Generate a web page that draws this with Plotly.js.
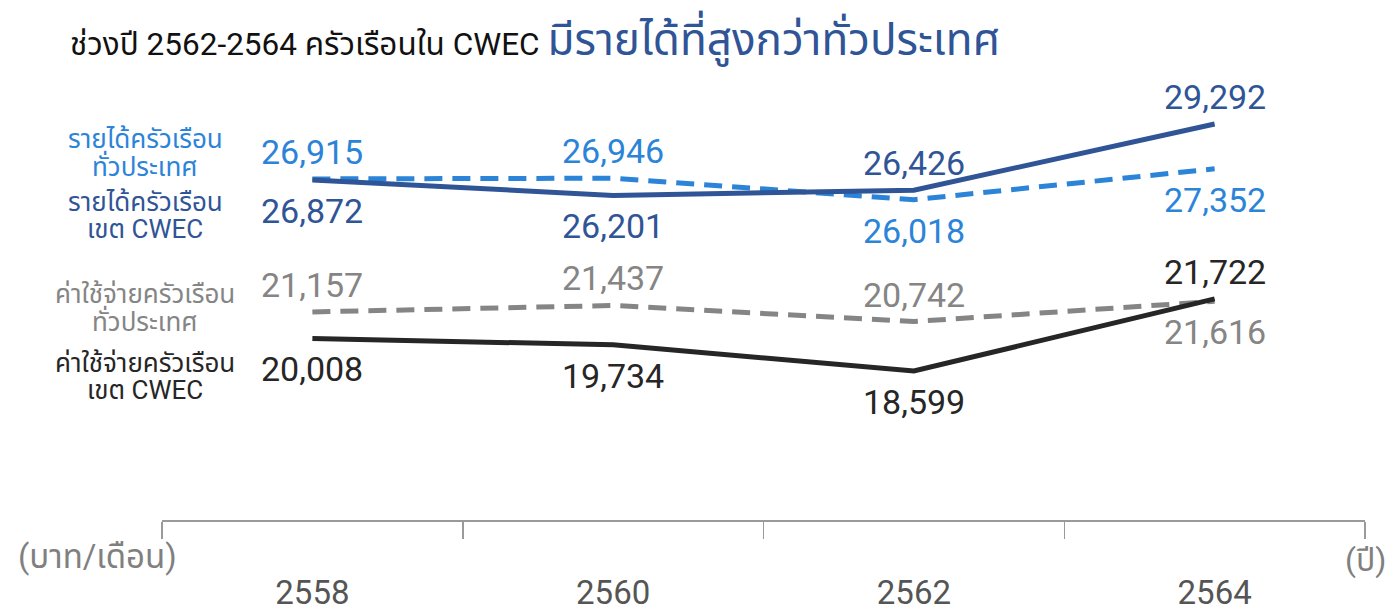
<!DOCTYPE html>
<html>
<head>
<meta charset="utf-8">
<script src="https://cdn.plot.ly/plotly-3.0.1.min.js"></script>
<style>
  html, body { margin: 0; padding: 0; background: #fff; }
  #chart { width: 1398px; height: 612px; }
</style>
</head>
<body>
<div id="chart"></div>
<script>
// Data ------------------------------------------------------------------------
const years = ['2558', '2560', '2562', '2564']
const incomeNational = [26915, 26946, 26018, 27352]
const incomeCwec = [26872, 26201, 26426, 29292]
const expenseNational = [21157, 21437, 20742, 21616]
const expenseCwec = [20008, 19734, 18599, 21722]

// where each value label sits relative to its point
const incomeNationalPos = ['up', 'up', 'down', 'down']
const incomeCwecPos = ['down', 'down', 'up', 'up']
const expenseNationalPos = ['up', 'up', 'up', 'down']
const expenseCwecPos = ['down', 'down', 'down', 'up']

// Utils -----------------------------------------------------------------------
const FONT = 'Roboto, "Noto Sans Thai", "Noto Sans", sans-serif'
const colours = {
  incomeNational: '#2b84d8',
  incomeCwec: '#2f5597',
  expenseNational: '#858585',
  expenseCwec: '#262626'
}

const lineTrace = (values, colour, dash) => ({
  x: years,
  y: values,
  type: 'scatter',
  mode: 'lines',
  line: { color: colour, width: 5, dash: dash },
  hoverinfo: 'skip'
})

// x given as category index so numeric-looking labels are not misread
const valueLabels = (values, pos, colour) =>
  values.map((v, i) => ({
    x: i,
    y: v,
    xref: 'x',
    yref: 'y',
    text: v.toLocaleString('en-US'),
    showarrow: false,
    yanchor: 'middle',
    yshift: pos[i] === 'up' ? 27 : -31,
    font: { family: FONT, size: 34, color: colour }
  }))

const px2paperY = y => 1 - (y - 90) / 430
const px2paperX = x => (x - 162) / 1203

const sideLine = (text, y, colour) => ({
  text: text,
  xref: 'paper',
  yref: 'paper',
  x: px2paperX(145),
  y: px2paperY(y),
  xanchor: 'center',
  yanchor: 'middle',
  showarrow: false,
  font: { family: FONT, size: 26, color: colour }
})

// Chart -----------------------------------------------------------------------
const traces = [
  lineTrace(expenseNational, colours.expenseNational, '18px,10px'),
  lineTrace(expenseCwec, colours.expenseCwec, 'solid'),
  lineTrace(incomeNational, colours.incomeNational, '18px,10px'),
  lineTrace(incomeCwec, colours.incomeCwec, 'solid')
]

const annotations = [
  ...valueLabels(incomeNational, incomeNationalPos, colours.incomeNational),
  ...valueLabels(incomeCwec, incomeCwecPos, colours.incomeCwec),
  ...valueLabels(expenseNational, expenseNationalPos, colours.expenseNational),
  ...valueLabels(expenseCwec, expenseCwecPos, colours.expenseCwec),
  sideLine('รายได้ครัวเรือน', 139, colours.incomeNational),
  sideLine('ทั่วประเทศ', 166, colours.incomeNational),
  sideLine('รายได้ครัวเรือน', 202, colours.incomeCwec),
  sideLine('เขต CWEC', 229, colours.incomeCwec),
  sideLine('ค่าใช้จ่ายครัวเรือน', 294, colours.expenseNational),
  sideLine('ทั่วประเทศ', 321, colours.expenseNational),
  sideLine('ค่าใช้จ่ายครัวเรือน', 363, colours.expenseCwec),
  sideLine('เขต CWEC', 390, colours.expenseCwec),
  {
    text: '(บาท/เดือน)',
    xref: 'paper',
    yref: 'paper',
    x: px2paperX(16),
    y: px2paperY(556),
    xanchor: 'left',
    yanchor: 'middle',
    showarrow: false,
    font: { family: FONT, size: 33, color: '#808080' }
  },
  {
    text: '(ปี)',
    xref: 'paper',
    yref: 'paper',
    x: px2paperX(1388),
    y: px2paperY(560),
    xanchor: 'right',
    yanchor: 'middle',
    showarrow: false,
    font: { family: FONT, size: 32, color: '#808080' }
  }
]

const layout = {
  width: 1398,
  height: 612,
  margin: { l: 162, r: 33, t: 90, b: 92 },
  paper_bgcolor: '#ffffff',
  plot_bgcolor: '#ffffff',
  showlegend: false,
  title: {
    text: 'ช่วงปี 2562-2564 ครัวเรือนใน CWEC <span style="color:#2f5597;font-size:44px">มีรายได้ที่สูงกว่าทั่วประเทศ</span>',
    xref: 'container',
    yref: 'container',
    x: 70 / 1398,
    xanchor: 'left',
    y: 1 - 44 / 612,
    yanchor: 'middle',
    font: { family: FONT, size: 31.5, color: '#111111' }
  },
  xaxis: {
    type: 'category',
    range: [-0.5, 3.5],
    showline: true,
    linecolor: '#9a9a9a',
    linewidth: 1.5,
    ticks: 'outside',
    tickson: 'boundaries',
    ticklen: 17,
    tickwidth: 1.5,
    tickcolor: '#9a9a9a',
    ticklabelstandoff: 43,
    showgrid: false,
    zeroline: false,
    tickfont: { family: FONT, size: 33, color: '#555555' },
    fixedrange: true
  },
  yaxis: {
    range: [12150, 30765],
    visible: false,
    fixedrange: true
  },
  annotations: annotations
}

Plotly.newPlot('chart', traces, layout, { displayModeBar: false, staticPlot: true })
</script>
</body>
</html>
